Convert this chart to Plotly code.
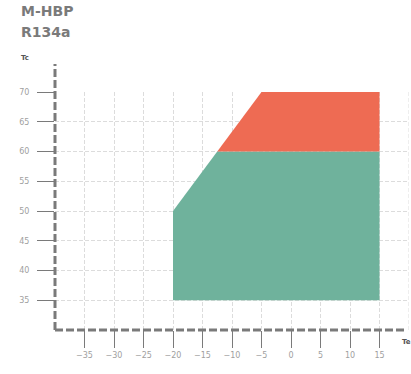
import plotly.graph_objects as go

# Data
title_lines = ["M-HBP", "R134a"]
x_ticks = [-35, -30, -25, -20, -15, -10, -5, 0, 5, 10, 15]
y_ticks = [35, 40, 45, 50, 55, 60, 65, 70]
green_te = [-20, -20, -12.5, 15, 15]
green_tc = [35, 50, 60, 60, 35]
red_te = [-12.5, -5, 15, 15]
red_tc = [60, 70, 70, 60]

GREEN = "#6fb29c"
RED = "#ee6b53"
AXIS = "#7a7a7a"
GRID = "#dcdcdc"
FONT = "DejaVu Sans"

W, H = 411, 374
ML, MR, MT, MB = 55, 2, 92, 44
PW = W - ML - MR
PH = H - MT - MB

fig = go.Figure()
fig.add_trace(go.Scatter(x=green_te, y=green_tc, fill="toself", fillcolor=GREEN,
                         mode="lines", line=dict(width=0, color=GREEN),
                         hoverinfo="skip", showlegend=False))
fig.add_trace(go.Scatter(x=red_te, y=red_tc, fill="toself", fillcolor=RED,
                         mode="lines", line=dict(width=0, color=RED),
                         hoverinfo="skip", showlegend=False))

fig.update_layout(
    width=W, height=H,
    margin=dict(l=ML, r=MR, t=MT, b=MB, autoexpand=False),
    paper_bgcolor="white", plot_bgcolor="white",
    font=dict(family=FONT, size=8, color="#9a9a9a"),
    xaxis=dict(range=[-40, 20], tickvals=x_ticks, ticks="outside", ticklen=17,
               tickcolor=AXIS, tickwidth=1, showline=False, zeroline=False,
               showgrid=True, gridcolor=GRID, griddash="4px,2px", gridwidth=1,
               tickfont=dict(size=8, color="#a0a0a0", family=FONT), fixedrange=True),
    yaxis=dict(range=[30, 70], tickvals=y_ticks, ticks="outside", ticklen=17,
               tickcolor=AXIS, tickwidth=1, showline=False, zeroline=False,
               showgrid=True, gridcolor=GRID, griddash="4px,2px", gridwidth=1,
               ticklabelstandoff=6,
               tickfont=dict(size=8, color="#a0a0a0", family=FONT), fixedrange=True),
    showlegend=False,
)

# extra gridline at right edge
fig.add_shape(type="line", xref="x", yref="y", x0=20, x1=20, y0=30, y1=70,
              line=dict(color=GRID, width=1, dash="4px,2px"), layer="below")
# dashed axis lines
fig.add_shape(type="line", xref="paper", yref="paper", x0=0, x1=0, y0=0, y1=1 + 28 / PH,
              line=dict(color=AXIS, width=3, dash="8px,3px"), layer="above")
fig.add_shape(type="line", xref="paper", yref="paper", x0=0, x1=350 / PW, y0=0, y1=0,
              line=dict(color=AXIS, width=3, dash="8px,3px"), layer="above")

# titles
fig.add_annotation(text="<b>" + title_lines[0] + "</b>", xref="paper", yref="paper",
                   x=-36 / PW, y=1 + 81 / PH, xanchor="left", yanchor="middle",
                   showarrow=False, font=dict(family=FONT, size=14, color="#7a7a7a"))
fig.add_annotation(text="<b>" + title_lines[1] + "</b>", xref="paper", yref="paper",
                   x=-36 / PW, y=1 + 60 / PH, xanchor="left", yanchor="middle",
                   showarrow=False, font=dict(family=FONT, size=14, color="#7a7a7a"))
# axis titles
fig.add_annotation(text="<b>Tc</b>", xref="paper", yref="paper",
                   x=-36 / PW, y=1 + 34 / PH, xanchor="left", yanchor="middle",
                   showarrow=False, font=dict(family=FONT, size=7, color="#555555"))
fig.add_annotation(text="<b>Te</b>", xref="paper", yref="paper",
                   x=345 / PW, y=-12 / PH, xanchor="left", yanchor="middle",
                   showarrow=False, font=dict(family=FONT, size=7, color="#555555"))

fig.write_html("out.html", config={"displayModeBar": False},
               post_script="document.body.style.margin='0px';")
